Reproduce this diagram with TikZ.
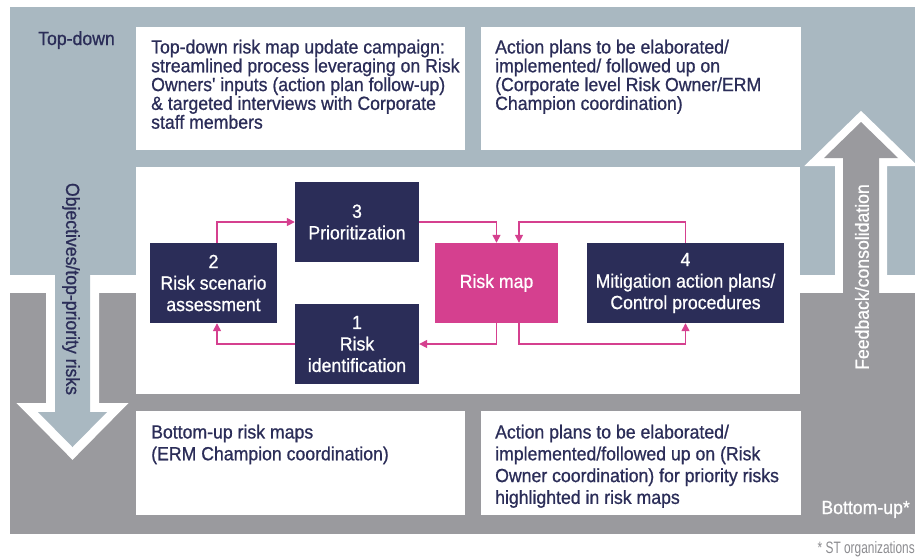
\documentclass[tikz,border=0pt]{standalone}
\usepackage{fontspec}
\newfontfamily\cf{Liberation Sans}[FakeStretch=0.93,FakeBold=0.8]
\newfontfamily\cfn{Liberation Sans}[FakeStretch=0.72]
\usetikzlibrary{arrows.meta}
\definecolor{bgtop}{HTML}{A9B8C1}
\definecolor{bgbot}{HTML}{9A9A9E}
\definecolor{navy}{HTML}{2B2D58}
\definecolor{mag}{HTML}{D5408F}
\definecolor{foot}{HTML}{8C8C90}
\begin{document}
\begin{tikzpicture}[x=1pt,y=-1pt,
  txt/.style={font=\cf\fontsize{19}{18.8}\selectfont, text=navy, align=left, inner sep=0pt, anchor=north west},
  txtb/.style={txt, font=\cf\fontsize{19}{21.8}\selectfont},
  stepbox/.style={fill=navy, text=white, align=center, inner sep=0pt, font=\cf\fontsize{19}{21.5}\selectfont, minimum height=80},
  mapbox/.style={stepbox, fill=mag},
  link/.style={draw=mag, line width=1.5pt, -{Triangle[length=8pt,width=8pt]}},
  lbl/.style={font=\cf\fontsize{19}{21}\selectfont, inner sep=0pt}
]
\useasboundingbox (0,0) rectangle (922,558);
\fill[white] (0,0) rectangle (922,558);
% background bands
\fill[bgtop] (10,7) rectangle (915,275);
\fill[bgbot] (10,293) rectangle (915,534);
% white panels
\fill[white] (136,27) rectangle (465,150);
\fill[white] (481,27) rectangle (801,150);
\fill[white] (136,167) rectangle (800,394);
\fill[white] (136,411) rectangle (465,515);
\fill[white] (481,411) rectangle (801,515);
% left big arrow (down)
\draw[white, line width=18pt, line join=miter] (55,284) -- (55,412) -- (38,412) -- (72.5,447) -- (107,412) -- (90,412) -- (90,284) -- cycle;
\fill[bgtop] (55,266) -- (55,412) -- (38,412) -- (72.5,447) -- (107,412) -- (90,412) -- (90,266) -- cycle;
% right big arrow (up)
\draw[white, line width=16pt, line join=miter] (843,284) -- (843,158) -- (824,158) -- (861,122) -- (898,158) -- (879,158) -- (879,284) -- cycle;
\fill[bgbot] (843,302) -- (843,158) -- (824,158) -- (861,122) -- (898,158) -- (879,158) -- (879,302) -- cycle;
% labels
\node[lbl, text=navy, anchor=base west] (topdown) at (38,45) {Top-down};
\node[lbl, text=white, anchor=base east] (bottomup) at (910,514) {Bottom-up*};
\node[lbl, text=navy, rotate=-90] (objectives) at (71,289) {Objectives/top-priority risks};
\node[lbl, text=white, rotate=90] (feedback) at (862,277) {Feedback/consolidation};
\node[font=\cfn\fontsize{16.5}{18}\selectfont, text=foot, inner sep=0pt, anchor=base east] (stnote) at (915,553) {* ST organizations};
% panel texts
\node[txt] (tl) at (151,39.5) {Top-down risk map update campaign:\\streamlined process leveraging on Risk\\Owners' inputs (action plan follow-up)\\\& targeted interviews with Corporate\\staff members};
\node[txt] (tr) at (495,39.5) {Action plans to be elaborated/\\implemented/ followed up on\\(Corporate level Risk Owner/ERM\\Champion coordination)};
\node[txtb] (bl) at (151,424.5) {Bottom-up risk maps\\(ERM Champion coordination)};
\node[txtb] (br) at (495,424.5) {Action plans to be elaborated/\\implemented/followed up on (Risk\\Owner coordination) for priority risks\\highlighted in risk maps};
% process nodes
\node[stepbox, minimum width=124] (n3) at (357,222) {3\\Prioritization};
\node[stepbox, minimum width=127] (n2) at (213.5,283) {2\\Risk scenario\\assessment};
\node[stepbox, minimum width=124] (n1) at (357,344) {1\\Risk\\identification};
\node[mapbox, minimum width=123] (rm) at (496.5,283) {Risk map};
\node[stepbox, minimum width=197] (n4) at (685.5,283) {4\\Mitigation action plans/\\Control procedures};
% connectors
\draw[link] ([xshift=3.5pt]n2.north) |- (n3.west);
\draw[link] (n3.east) -| (rm.north);
\draw[link] (n4.north) -- (n4.north |- n3.east) -| ([xshift=22.5pt]rm.north);
\draw[link] (rm.south) |- (n1.east);
\draw[link] (n1.west) -| ([xshift=3.5pt]n2.south);
\draw[link] ([xshift=22.5pt]rm.south) |- (n4.south |- n1.east) -- (n4.south);
\end{tikzpicture}
\end{document}
